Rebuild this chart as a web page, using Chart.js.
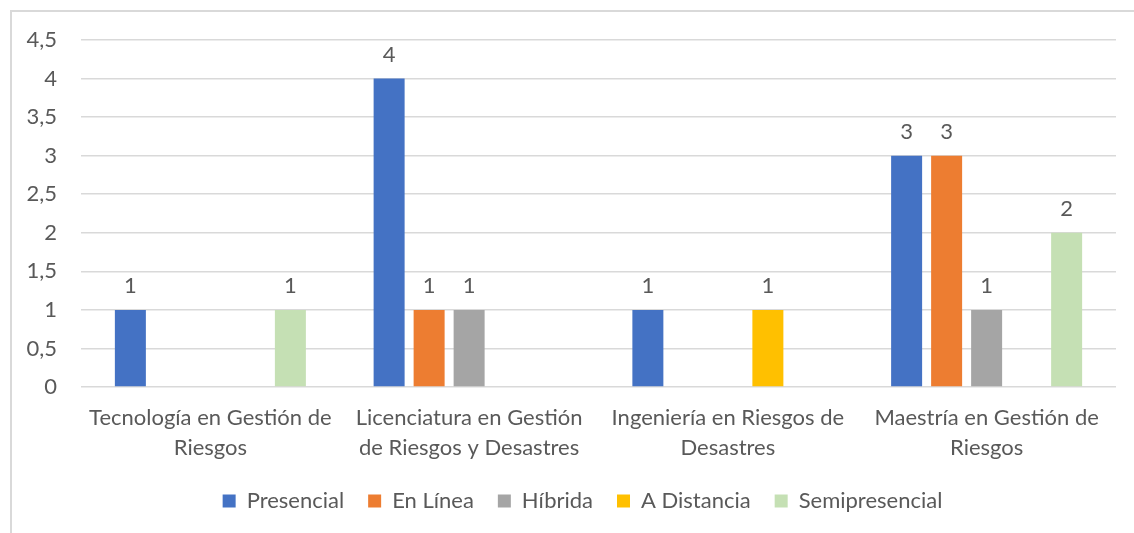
<!DOCTYPE html>
<html>
<head>
<meta charset="utf-8">
<script src="https://cdn.jsdelivr.net/npm/chart.js@4"></script>
<style>
  html, body { margin: 0; padding: 0; background: #ffffff; overflow: hidden; }
  #wrap { position: relative; width: 1134px; height: 533px; }
  #frame { position: absolute; left: 10px; top: 10px; width: 1200px; height: 600px;
           border: 2px solid #d9d9d9; box-sizing: border-box; pointer-events: none; }
  canvas { position: absolute; left: 0; top: 0; }
</style>
</head>
<body>
<div id="wrap">
  <div id="frame"></div>
  <canvas id="grafico" width="1134" height="533"></canvas>
</div>
<script>
// categorias (eixo x) e séries
var categorias = [
    ['Tecnología en Gestión de', 'Riesgos'],
    ['Licenciatura en Gestión', 'de Riesgos y Desastres'],
    ['Ingeniería en Riesgos de', 'Desastres'],
    ['Maestría en Gestión de', 'Riesgos']
];
var presencial     = [1, 4, 1, 3];
var enLinea        = [null, 1, null, 3];
var hibrida        = [null, 1, null, 1];
var aDistancia     = [null, null, 1, null];
var semipresencial = [1, null, null, 2];

var yMin = 0, yMax = 4.5, yPaso = 0.5;

var fonte = 'Lato, "Open Sans", sans-serif';
var corTexto = '#595959';
var tamFonte = 22;

// rótulos de dados em cima das barras
var rotulosPlugin = {
    id: 'rotulos',
    afterDatasetsDraw: function(chart) {
        var ctx = chart.ctx;
        ctx.save();
        ctx.font = tamFonte + 'px ' + fonte;
        ctx.fillStyle = corTexto;
        ctx.textAlign = 'center';
        ctx.textBaseline = 'alphabetic';
        chart.data.datasets.forEach(function(ds, i) {
            var meta = chart.getDatasetMeta(i);
            meta.data.forEach(function(bar, j) {
                var v = ds.data[j];
                if (v === null || v === undefined) return;
                ctx.fillText(String(v).replace('.', ','), bar.x, bar.y - 17);
            });
        });
        ctx.restore();
    }
};

// empurra a legenda um pouco para a esquerda
var legendaPlugin = {
    id: 'ajusteLegenda',
    afterLayout: function(chart) {
        if (chart.legend) {
            chart.legend.left -= 16;
            chart.legend.right -= 16;
        }
    }
};

var ctx = document.getElementById('grafico').getContext('2d');
new Chart(ctx, {
    type: 'bar',
    data: {
        labels: categorias,
        datasets: [
            { label: 'Presencial', data: presencial, backgroundColor: '#4472C4' },
            { label: 'En Línea', data: enLinea, backgroundColor: '#ED7D31' },
            { label: 'Híbrida', data: hibrida, backgroundColor: '#A5A5A5' },
            { label: 'A Distancia', data: aDistancia, backgroundColor: '#FFC000' },
            { label: 'Semipresencial', data: semipresencial, backgroundColor: '#C5E0B4' }
        ]
    },
    options: {
        responsive: false,
        animation: false,
        categoryPercentage: 0.773,
        barPercentage: 0.775,
        layout: { padding: { left: 0, right: 18, top: 40, bottom: 11 } },
        plugins: {
            legend: {
                position: 'bottom',
                fullSize: false,
                labels: {
                    font: { family: fonte, size: tamFonte },
                    color: corTexto,
                    boxWidth: 13,
                    boxHeight: 13,
                    padding: 24
                }
            },
            tooltip: { enabled: false }
        },
        scales: {
            x: {
                grid: { display: false, drawTicks: false },
                border: { display: false },
                ticks: {
                    font: { family: fonte, size: tamFonte, lineHeight: 1.36 },
                    color: corTexto,
                    padding: 16,
                    maxRotation: 0,
                    autoSkip: false
                },
                afterFit: function(scale) { scale.height = 79; }
            },
            y: {
                min: yMin,
                max: yMax,
                grid: { color: '#d9d9d9', lineWidth: 1.5, drawTicks: false },
                border: { display: false },
                ticks: {
                    stepSize: yPaso,
                    font: { family: fonte, size: tamFonte },
                    color: corTexto,
                    padding: 24,
                    callback: function(v) { return String(v).replace('.', ','); }
                },
                afterFit: function(scale) { scale.width = 81; }
            }
        }
    },
    plugins: [rotulosPlugin, legendaPlugin]
});
</script>
</body>
</html>
